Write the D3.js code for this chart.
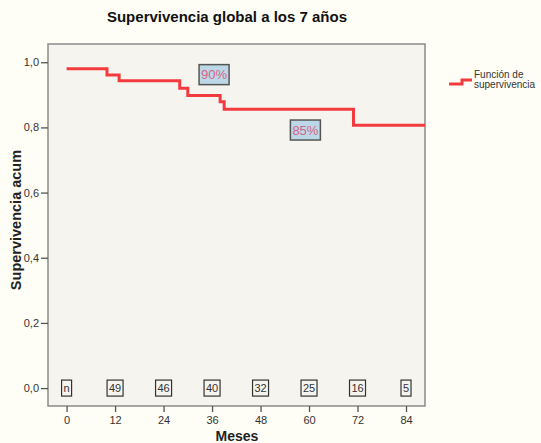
<!DOCTYPE html>
<html>
<head>
<meta charset="utf-8">
<script src="https://cdn.jsdelivr.net/npm/d3@7"></script>
<style>
  body { margin: 0; background: #fefef6; }
  svg { display: block; }
</style>
</head>
<body>
<div id="chart"></div>
<script>
// Kaplan-Meier steps (months, cumulative survival)
let stepTimes = [0, 10, 13, 28, 30, 38, 39, 71, 88.7];
let stepSurv = [0.98, 0.961, 0.943, 0.92, 0.898, 0.879, 0.856, 0.807, 0.807];

// patients at risk under each tick
let riskTimes = [0, 12, 24, 36, 48, 60, 72, 84];
let riskLabels = ["n", "49", "46", "40", "32", "25", "16", "5"];

// annotation boxes
let noteTimes = [36.5, 59.1];
let noteSurv = [0.962, 0.792];
let noteLabels = ["90%", "85%"];

let xTicks = [0, 12, 24, 36, 48, 60, 72, 84];
let yTicks = [0, 0.2, 0.4, 0.6, 0.8, 1.0];

let drawChart = function(){
    let W = 541, H = 443;
    let margin = {top: 44, left: 48, right: 116, bottom: 37};
    let width = W - margin.left - margin.right;
    let height = H - margin.top - margin.bottom;

    let svg = d3.select("#chart")
        .append("svg")
        .attr("width", W)
        .attr("height", H);

    let g = svg.append("g")
        .attr("transform", "translate(" + margin.left + "," + margin.top + ")");

    let x = d3.scaleLinear().domain([-4.6, 88.7]).range([0, width]);
    let y = d3.scaleLinear().domain([-0.055, 1.056]).range([height, 0]);

    // plot area
    g.append("rect")
        .attr("width", width)
        .attr("height", height)
        .attr("fill", "#f6f4ef")
        .attr("stroke", "#8a8a8a")
        .attr("stroke-width", 1.5);

    let fmt = d => d3.format(".1f")(d).replace(".", ",");

    let xAxis = g.append("g")
        .attr("transform", "translate(0," + height + ")")
        .call(d3.axisBottom(x).tickValues(xTicks).tickSize(6).tickPadding(4));
    xAxis.select(".domain").remove();

    let yAxis = g.append("g")
        .call(d3.axisLeft(y).tickValues(yTicks).tickFormat(fmt).tickSize(7).tickPadding(2));
    yAxis.select(".domain").remove();

    svg.selectAll(".tick line").attr("stroke", "#555").attr("stroke-width", 1.3);
    svg.selectAll(".tick text")
        .style("font-family", "Arial, 'Liberation Sans', sans-serif")
        .style("font-size", "11px")
        .attr("fill", "#333");

    // survival curve
    let pts = stepTimes.map((t, i) => [t, stepSurv[i]]);
    g.append("path")
        .datum(pts)
        .attr("fill", "none")
        .attr("stroke", "#f23a3f")
        .attr("stroke-width", 3)
        .attr("d", d3.line()
            .curve(d3.curveStepAfter)
            .x(d => x(d[0]))
            .y(d => y(d[1])));

    // at-risk boxes
    let risk = g.append("g").selectAll("g")
        .data(riskTimes)
        .enter()
        .append("g")
        .attr("transform", d => "translate(" + x(d) + "," + y(0) + ")");
    risk.append("rect")
        .attr("x", (d, i) => riskLabels[i].length == 1 ? -5 : -8)
        .attr("y", -8)
        .attr("width", (d, i) => riskLabels[i].length == 1 ? 10 : 16)
        .attr("height", 16)
        .attr("fill", "none")
        .attr("stroke", "#333")
        .attr("stroke-width", 1.2);
    risk.append("text")
        .attr("text-anchor", "middle")
        .attr("dy", "0.35em")
        .style("font-family", "Arial, 'Liberation Sans', sans-serif")
        .style("font-size", "11px")
        .attr("fill", "#333")
        .text((d, i) => riskLabels[i]);

    // percentage annotations
    let notes = g.append("g").selectAll("g")
        .data(noteTimes)
        .enter()
        .append("g")
        .attr("transform", (d, i) => "translate(" + x(d) + "," + y(noteSurv[i]) + ")");
    notes.append("rect")
        .attr("x", -15)
        .attr("y", -10)
        .attr("width", 30)
        .attr("height", 20)
        .attr("fill", "#bcd8e6")
        .attr("stroke", "#555")
        .attr("stroke-width", 1.5);
    notes.append("text")
        .attr("text-anchor", "middle")
        .attr("dy", "0.36em")
        .style("font-family", "Arial, 'Liberation Sans', sans-serif")
        .style("font-size", "13px")
        .attr("fill", "#d5648a")
        .text((d, i) => noteLabels[i]);

    // title
    svg.append("text")
        .attr("x", 227)
        .attr("y", 22)
        .attr("text-anchor", "middle")
        .style("font-family", "Arial, 'Liberation Sans', sans-serif")
        .style("font-weight", "bold")
        .style("font-size", "15px")
        .attr("fill", "#111")
        .text("Supervivencia global a los 7 años");

    // x label
    svg.append("text")
        .attr("x", 237)
        .attr("y", 441)
        .attr("text-anchor", "middle")
        .style("font-family", "Arial, 'Liberation Sans', sans-serif")
        .style("font-weight", "bold")
        .style("font-size", "14px")
        .attr("fill", "#222")
        .text("Meses");

    // y label
    svg.append("text")
        .attr("text-anchor", "middle")
        .attr("transform", "translate(21,220)rotate(-90)")
        .style("font-family", "Arial, 'Liberation Sans', sans-serif")
        .style("font-weight", "bold")
        .style("font-size", "14.5px")
        .attr("fill", "#222")
        .text("Supervivencia acum");

    // legend
    let lg = svg.append("g").attr("transform", "translate(449,84)");
    lg.append("path")
        .attr("d", "M0,0 H13 V-4 H23")
        .attr("fill", "none")
        .attr("stroke", "#f23a3f")
        .attr("stroke-width", 3);
    lg.append("text").attr("x", 25).attr("y", -6)
        .style("font-family", "Arial, 'Liberation Sans', sans-serif")
        .style("font-size", "10px").attr("fill", "#333")
        .text("Función de");
    lg.append("text").attr("x", 25).attr("y", 4)
        .style("font-family", "Arial, 'Liberation Sans', sans-serif")
        .style("font-size", "10px").attr("fill", "#333")
        .text("supervivencia");
};

drawChart();
</script>
</body>
</html>
